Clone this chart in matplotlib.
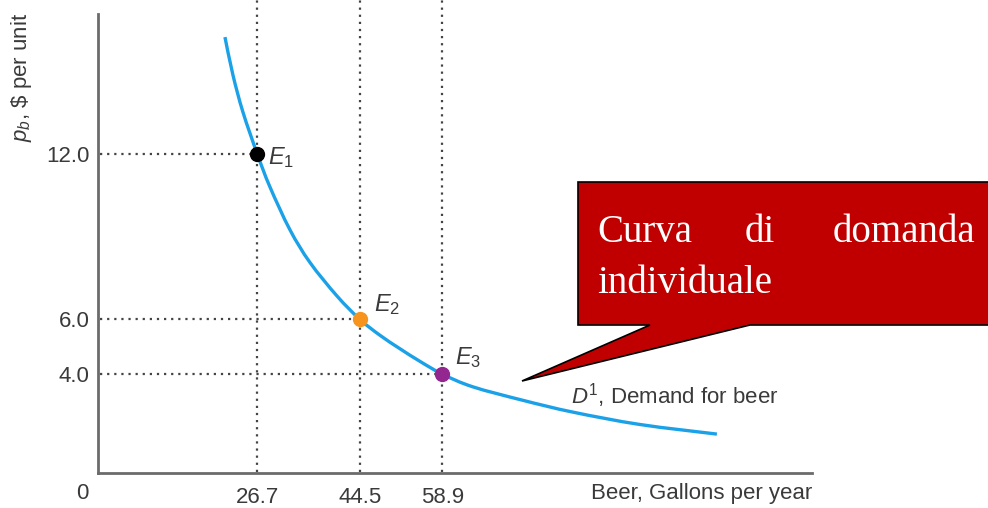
import numpy as np
import matplotlib.pyplot as plt
from matplotlib.patches import Polygon, PathPatch
from matplotlib.path import Path

plt.rcParams['font.family'] = ['Liberation Sans', 'DejaVu Sans']
plt.rcParams['mathtext.fontset'] = 'custom'
plt.rcParams['mathtext.rm'] = 'Liberation Sans'
plt.rcParams['mathtext.it'] = 'Liberation Sans:italic'

# punti (quantita, prezzo)
curve_q = [21.05, 22.44, 24.18, 26.7, 28.87, 32.35, 35.83, 40.53, 44.5,
           48.0, 51.48, 54.96, 58.9, 64.19, 72.89, 81.59, 93.25, 106.65]
curve_p = [16.27, 14.89, 13.54, 12.0, 10.82, 9.26, 8.07, 6.85, 6.0,
           5.42, 4.93, 4.47, 4.0, 3.54, 3.05, 2.62, 2.17, 1.82]

eq_q = [26.7, 44.5, 58.9]
eq_p = [12.0, 6.0, 4.0]
eq_names = [r'$E_1$', r'$E_2$', r'$E_3$']
eq_colors = ['#000000', '#F7941D', '#93278F']

xtick_labels = ['26.7', '44.5', '58.9']
ytick_labels = ['12.0', '6.0', '4.0']

W, H = 988, 508


def px(x, y):
    # pixel -> frazione della figura
    return x / W, 1 - y / H


def smooth_path(xs, ys):
    # curva di Bezier che passa per tutti i punti (Catmull-Rom)
    pts = np.column_stack([xs, ys])
    verts = [pts[0]]
    codes = [Path.MOVETO]
    n = len(pts)
    for i in range(n - 1):
        p0 = pts[max(i - 1, 0)]
        p1 = pts[i]
        p2 = pts[i + 1]
        p3 = pts[min(i + 2, n - 1)]
        verts += [p1 + (p2 - p0) / 6, p2 - (p3 - p1) / 6, p2]
        codes += [Path.CURVE4] * 3
    return Path(verts, codes)


fig = plt.figure(figsize=(W / 100, H / 100), dpi=100)
ax = fig.add_axes([98 / W, 35 / H, 714 / W, 459 / H])
ax.set_xlim(-1.04, 123.2)
ax.set_ylim(0.404, 17.11)

for s in ['top', 'right']:
    ax.spines[s].set_visible(False)
for s in ['left', 'bottom']:
    ax.spines[s].set_color('#6b6b6b')
    ax.spines[s].set_linewidth(2.0)

gray = '#3a3a3a'
ax.set_xticks(eq_q, xtick_labels)
ax.set_yticks(eq_p, ytick_labels)
ax.tick_params(length=0, labelsize=16, colors=gray)
ax.tick_params(axis='x', pad=10)
ax.tick_params(axis='y', pad=6)

# linee tratteggiate
for q, p in zip(eq_q, eq_p):
    ax.plot([q, q], [0.45, 17.65], ls=(0, (1, 2.2)), color='#444444', lw=1.6,
            clip_on=False, zorder=1)
    ax.plot([-0.7, q], [p, p], ls=(0, (1, 2.2)), color='#444444', lw=1.6,
            zorder=1)

ax.add_patch(PathPatch(smooth_path(curve_q, curve_p), facecolor='none',
                       edgecolor='#1BA1E8', lw=2.4, capstyle='butt',
                       zorder=2))

for q, p, c in zip(eq_q, eq_p, eq_colors):
    ax.plot(q, p, 'o', color=c, ms=10, zorder=3)

ax.text(28.5, 11.87, eq_names[0], fontsize=17, color=gray, va='center')
ax.text(47.0, 6.52, eq_names[1], fontsize=17, color=gray, va='center')
ax.text(61.05, 4.59, eq_names[2], fontsize=17, color=gray, va='center')

ax.text(81.2, 3.24, r'$D^1$, Demand for beer', fontsize=16, color=gray,
        va='center')
ax.text(123.2, -0.36, 'Beer, Gallons per year', fontsize=16, color=gray,
        ha='right', va='center', clip_on=False)
ax.text(-3.83, -0.36, '0', fontsize=16, color=gray, ha='center', va='center',
        clip_on=False)
ax.text(-14.3, 14.8, r'$p_b$, \$ per unit', fontsize=16, color=gray,
        rotation=90, ha='center', va='center', clip_on=False)

# fumetto rosso
verts = [px(578, 182), px(995, 182), px(995, 325), px(750, 325),
         px(522, 381), px(650, 325), px(578, 325)]
fig.patches.append(Polygon(verts, closed=True, transform=fig.transFigure,
                           facecolor='#C00000', edgecolor='black', lw=1.2))

serif = ['Liberation Serif', 'DejaVu Serif']
fig.text(*px(597, 242), 'Curva', family=serif, fontsize=28, color='white',
         va='baseline', ha='left')
fig.text(*px(760, 242), 'di', family=serif, fontsize=28, color='white',
         va='baseline', ha='center')
fig.text(*px(975, 242), 'domanda', family=serif, fontsize=28, color='white',
         va='baseline', ha='right')
fig.text(*px(597, 293), 'individuale', family=serif, fontsize=28,
         color='white', va='baseline', ha='left')

fig.savefig('out.png', dpi=100)
